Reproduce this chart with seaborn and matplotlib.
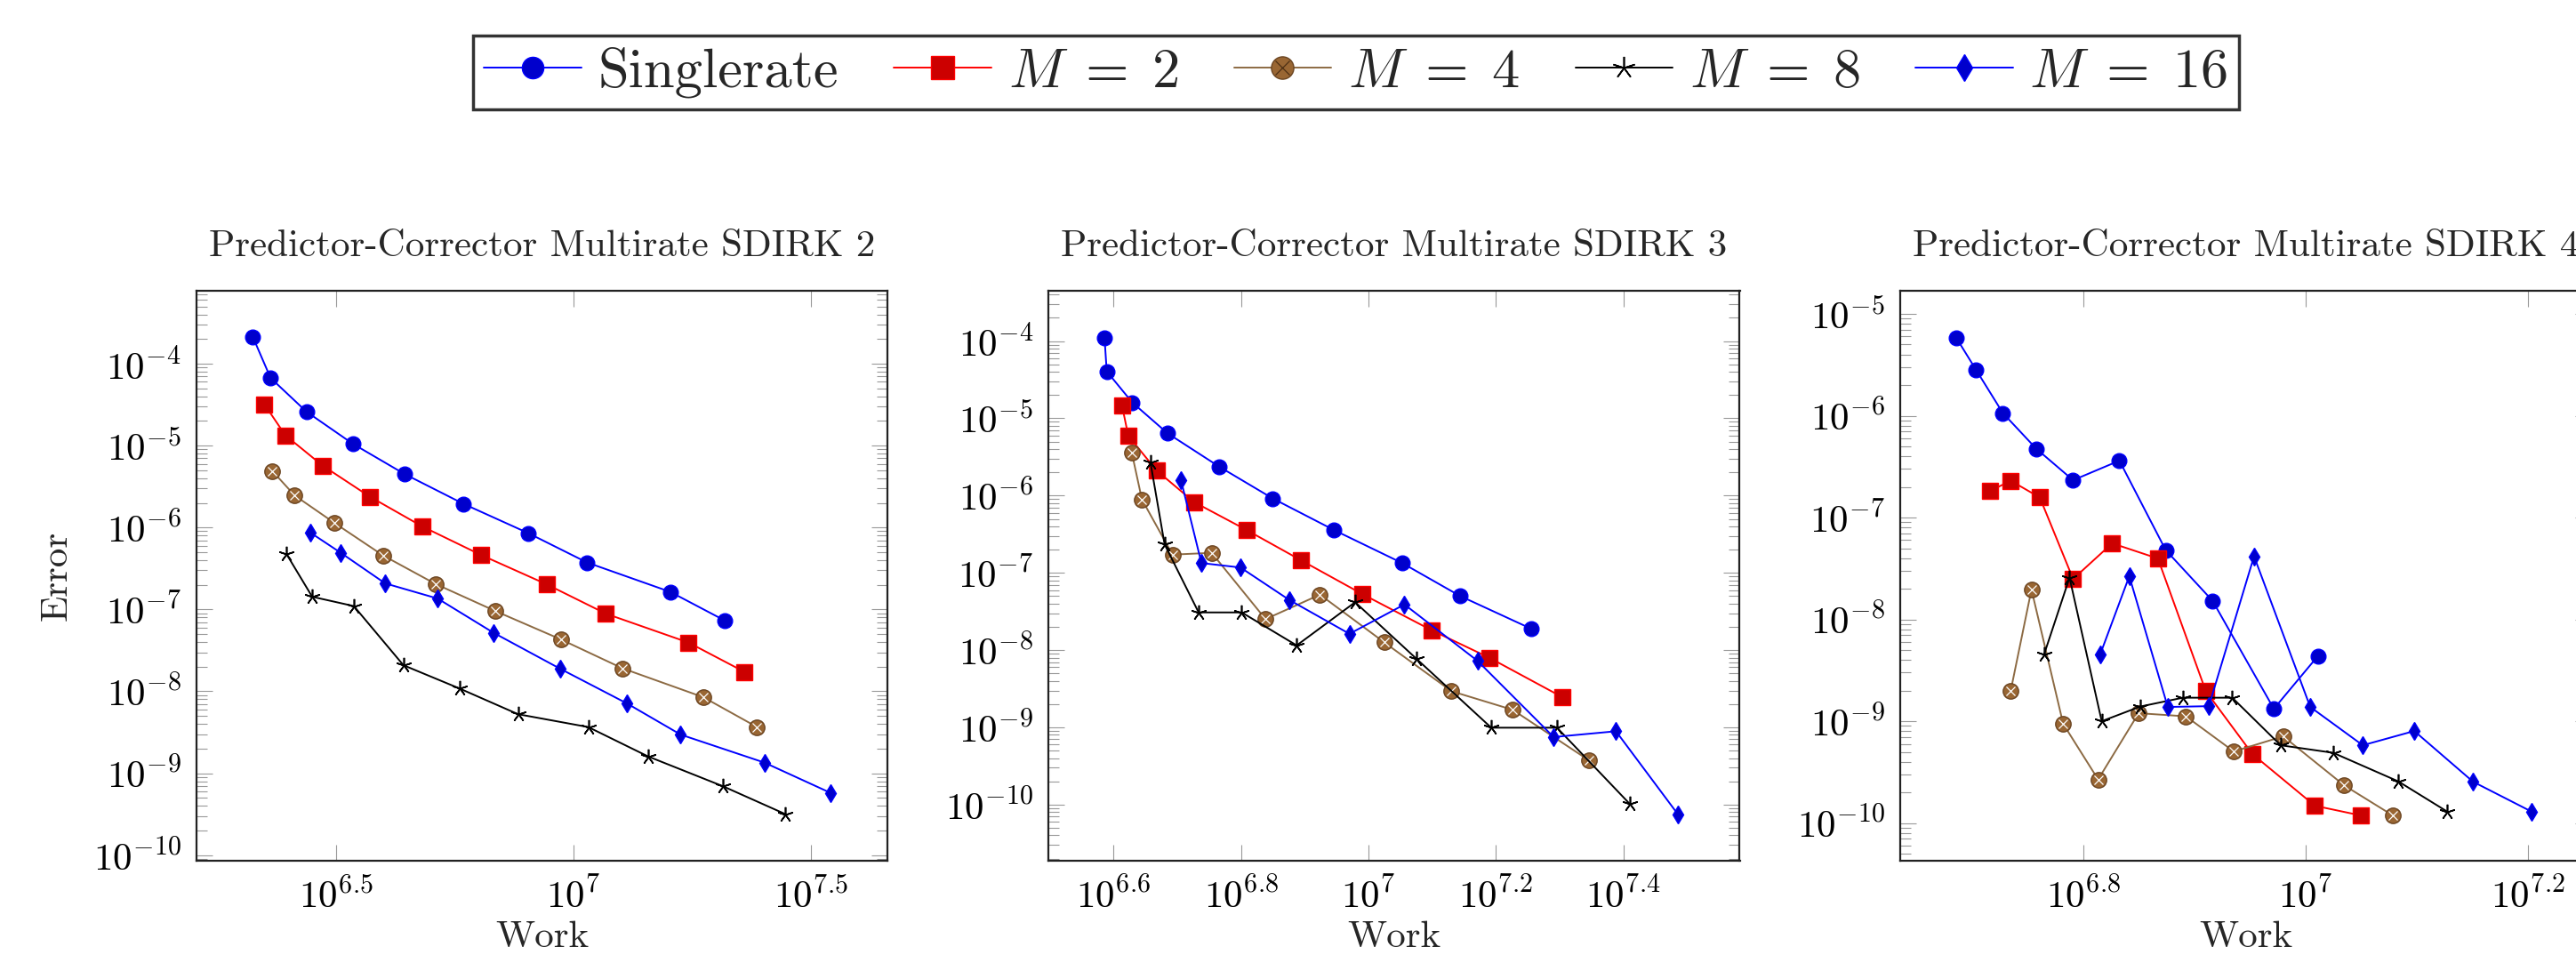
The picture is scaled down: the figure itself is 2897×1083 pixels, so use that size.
import numpy as np
import pandas as pd
import matplotlib
matplotlib.use("Agg")
import matplotlib.pyplot as plt
import seaborn as sns
from matplotlib.lines import Line2D
from matplotlib.legend_handler import HandlerTuple
from matplotlib.ticker import FixedLocator, FuncFormatter, LogLocator, NullLocator, NullFormatter

# ---------------- data (log10 of Work and Error) ----------------
titles = ["Predictor-Corrector Multirate SDIRK 2",
          "Predictor-Corrector Multirate SDIRK 3",
          "Predictor-Corrector Multirate SDIRK 4"]
series_names = ["Singlerate", r"$M\;=\;2$", r"$M\;=\;4$", r"$M\;=\;8$", r"$M\;=\;16$"]

# Panel 1: SDIRK 2
p1_single_logwork = [6.3245, 6.3618, 6.4375, 6.5349, 6.6442, 6.768, 6.905, 7.0288, 7.2043, 7.3197]
p1_single_logerr = [-3.674, -4.174, -4.586, -4.977, -5.347, -5.710, -6.069, -6.427, -6.786, -7.138]
p1_m2_logwork = [6.3486, 6.393, 6.4712, 6.5709, 6.6815, 6.8053, 6.9435, 7.0685, 7.2428, 7.3606]
p1_m2_logerr = [-4.494, -4.874, -5.243, -5.623, -5.987, -6.335, -6.693, -7.052, -7.405, -7.763]
p1_m4_logwork = [6.3654, 6.4123, 6.4964, 6.5986, 6.7091, 6.8353, 6.9736, 7.1034, 7.274, 7.387]
p1_m4_logerr = [-5.309, -5.607, -5.944, -6.340, -6.688, -7.019, -7.366, -7.719, -8.072, -8.436]
p1_m8_logwork = [6.3954, 6.4495, 6.5373, 6.6418, 6.7596, 6.8834, 7.0313, 7.1575, 7.3149, 7.4471]
p1_m8_logerr = [-6.324, -6.845, -6.959, -7.681, -7.964, -8.279, -8.436, -8.795, -9.158, -9.5]
p1_m16_logwork = [6.4459, 6.5096, 6.6034, 6.7139, 6.8317, 6.9724, 7.113, 7.226, 7.4026, 7.5421]
p1_m16_logerr = [-6.063, -6.308, -6.682, -6.867, -7.285, -7.725, -8.148, -8.528, -8.870, -9.240]

# Panel 2: SDIRK 3
p2_single_logwork = [6.5858, 6.5893, 6.6294, 6.6845, 6.7655, 6.85, 6.9462, 7.0529, 7.1437, 7.2558]
p2_single_logerr = [-3.954, -4.392, -4.795, -5.192, -5.624, -6.038, -6.447, -6.873, -7.299, -7.725]
p2_m2_logwork = [6.6133, 6.6231, 6.6676, 6.7264, 6.8091, 6.8946, 6.9907, 7.0992, 7.19, 7.3039]
p2_m2_logerr = [-4.835, -5.226, -5.676, -6.084, -6.447, -6.839, -7.276, -7.743, -8.100, -8.607]
p2_m4_logwork = [6.6285, 6.6445, 6.6925, 6.754, 6.8385, 6.9239, 7.0245, 7.1304, 7.2265, 7.3466]
p2_m4_logerr = [-5.440, -6.050, -6.764, -6.741, -7.599, -7.282, -7.898, -8.532, -8.773, -9.430]
p2_m8_logwork = [6.6578, 6.6801, 6.7335, 6.8011, 6.8874, 6.9791, 7.0752, 7.1927, 7.2959, 7.4098]
p2_m8_logerr = [-5.566, -6.631, -7.512, -7.512, -7.939, -7.380, -8.111, -9.004, -9.004, -9.988]
p2_m16_logwork = [6.7059, 6.7379, 6.7993, 6.8759, 6.9702, 7.0565, 7.1713, 7.2906, 7.3884, 7.4863]
p2_m16_logerr = [-5.802, -6.873, -6.931, -7.351, -7.789, -7.409, -8.140, -9.125, -9.050, -10.132]

# Panel 3: SDIRK 4
p3_single_logwork = [6.6864, 6.7037, 6.728, 6.7579, 6.7911, 6.8327, 6.8743, 6.9164, 6.9715, 7.0112]
p3_single_logerr = [-5.240, -5.546, -5.974, -6.323, -6.633, -6.441, -7.319, -7.817, -8.878, -8.358]
p3_m2_logwork = [6.7168, 6.735, 6.7612, 6.7911, 6.8262, 6.8673, 6.9103, 6.9523, 7.0084, 7.05]
p3_m2_logerr = [-6.738, -6.638, -6.803, -7.603, -7.253, -7.402, -8.703, -9.323, -9.830, -9.926]
p3_m4_logwork = [6.735, 6.7537, 6.7822, 6.8136, 6.85, 6.8925, 6.9355, 6.9799, 7.0346, 7.0785]
p3_m4_logerr = [-8.703, -7.707, -9.026, -9.572, -8.921, -8.952, -9.297, -9.148, -9.629, -9.926]
p3_m8_logwork = [6.765, 6.7879, 6.8168, 6.8514, 6.8897, 6.9341, 6.9776, 7.0248, 7.0832, 7.1271]
p3_m8_logerr = [-8.345, -7.590, -9.000, -8.856, -8.769, -8.769, -9.236, -9.310, -9.590, -9.886]
p3_m16_logwork = [6.8154, 6.8416, 6.8762, 6.9131, 6.9537, 7.0042, 7.0514, 7.0977, 7.1505, 7.2028]
p3_m16_logerr = [-8.345, -7.576, -8.860, -8.852, -7.380, -8.860, -9.236, -9.096, -9.594, -9.886]

panel_data = [
    [(p1_single_logwork, p1_single_logerr), (p1_m2_logwork, p1_m2_logerr), (p1_m4_logwork, p1_m4_logerr),
     (p1_m8_logwork, p1_m8_logerr), (p1_m16_logwork, p1_m16_logerr)],
    [(p2_single_logwork, p2_single_logerr), (p2_m2_logwork, p2_m2_logerr), (p2_m4_logwork, p2_m4_logerr),
     (p2_m8_logwork, p2_m8_logerr), (p2_m16_logwork, p2_m16_logerr)],
    [(p3_single_logwork, p3_single_logerr), (p3_m2_logwork, p3_m2_logerr), (p3_m4_logwork, p3_m4_logerr),
     (p3_m8_logwork, p3_m8_logerr), (p3_m16_logwork, p3_m16_logerr)],
]

# x tick exponents per panel
p1_xtick_exp = [6.5, 7.0, 7.5]
p2_xtick_exp = [6.6, 6.8, 7.0, 7.2, 7.4]
p3_xtick_exp = [6.8, 7.0, 7.2]
xtick_exps = [p1_xtick_exp, p2_xtick_exp, p3_xtick_exp]

# ---------------- style ----------------
sns.set_theme(style="ticks")
plt.rcParams["font.family"] = ["cmr10", "DejaVu Serif"]
plt.rcParams["mathtext.fontset"] = "cm"
plt.rcParams["axes.formatter.use_mathtext"] = True

styles = [
    dict(color="#0000FF", marker="o", ms=12, mfc="#0000CC", mec="#0000FF", mew=1.0),
    dict(color="#FF0000", marker="s", ms=12.5, mfc="#CC0000", mec="#FF0000", mew=1.0),
    dict(color="#8C6A43", marker="o", ms=12.5, mfc="#996633", mec="#6B4522", mew=1.0),
    dict(color="#000000", marker=(5, 2, 0), ms=12.5, mfc="#000000", mec="#000000", mew=1.2),
    dict(color="#0000FF", marker="d", ms=10.5, mfc="#0000CC", mec="#0000FF", mew=1.0),
]
line_w = 1.4
otimes_color = "#4E3014"

# axes geometry in pixels (figure 2897 x 1083)
W, H = 2897, 1083
axes_px = [(220.7, 327, 777.3, 641), (1179, 327, 777.5, 641), (2136.7, 327, 777.3, 641)]
xlims = [(6.2052, 7.6617), (6.4977, 7.5826), (6.6355, 7.2566)]
ylims = [(-10.068, -3.1097), (-10.726, -3.349), (-10.37, -4.773)]

fig = plt.figure(figsize=(W / 100, H / 100), dpi=100)

def xfmt(v, pos):
    e = np.log10(v)
    if abs(e - round(e)) < 1e-6:
        return r"$10^{%d}$" % int(round(e))
    return r"$10^{%.1f}$" % e

def yfmt(v, pos):
    e = np.log10(v)
    return r"$10^{%d}$" % int(round(e))

for i in range(3):
    l, t, w, h = axes_px[i]
    ax = fig.add_axes([l / W, 1 - (t + h) / H, w / W, h / H])
    ax.set_xscale("log")
    ax.set_yscale("log")
    for j, (lx, ly) in enumerate(panel_data[i]):
        df = pd.DataFrame({"Work": 10 ** np.array(lx), "Error": 10 ** np.array(ly)})
        st = styles[j]
        sns.lineplot(data=df, x="Work", y="Error", ax=ax, sort=False, estimator=None,
                     color=st["color"], marker=st["marker"], markersize=st["ms"],
                     markerfacecolor=st["mfc"], markeredgecolor=st["mec"],
                     markeredgewidth=st["mew"], linewidth=line_w, legend=False)
        if j == 2:
            sns.lineplot(data=df, x="Work", y="Error", ax=ax, sort=False, estimator=None,
                         color=otimes_color, marker="x", markersize=st["ms"] * 0.62,
                         markeredgewidth=0.9, linestyle="none", legend=False)
    ax.set_xlim(10 ** xlims[i][0], 10 ** xlims[i][1])
    ax.set_ylim(10 ** ylims[i][0], 10 ** ylims[i][1])
    ax.xaxis.set_major_locator(FixedLocator([10 ** e for e in xtick_exps[i]]))
    ax.xaxis.set_major_formatter(FuncFormatter(xfmt))
    ax.xaxis.set_minor_locator(NullLocator())
    ax.xaxis.set_minor_formatter(NullFormatter())
    ax.yaxis.set_major_locator(LogLocator(base=10, numticks=30))
    ax.yaxis.set_major_formatter(FuncFormatter(yfmt))
    ax.yaxis.set_minor_locator(LogLocator(base=10, subs=np.arange(2, 10), numticks=30))
    ax.yaxis.set_minor_formatter(NullFormatter())
    ax.tick_params(axis="both", which="major", direction="in", length=13, width=0.8,
                   color="#999999", labelsize=31, pad=14, top=True, right=True,
                   labelcolor="black")
    ax.tick_params(axis="y", which="minor", direction="in", length=8.5, width=0.8,
                   color="#999999", left=True, right=True)
    ax.tick_params(axis="y", which="major", pad=12)
    for sp in ax.spines.values():
        sp.set_visible(True)
        sp.set_color("#222222")
        sp.set_linewidth(1.6)
    ax.set_title(titles[i], fontsize=31, pad=28)
    ax.set_xlabel("Work", fontsize=31, labelpad=4)
    if i == 0:
        ax.set_ylabel("Error", fontsize=31, labelpad=16)
    else:
        ax.set_ylabel("")

# ---------------- legend ----------------
handles = []
for j, st in enumerate(styles):
    h = Line2D([], [], color=st["color"], marker=st["marker"], markersize=st["ms"],
               markerfacecolor=st["mfc"], markeredgecolor=st["mec"],
               markeredgewidth=st["mew"], linewidth=line_w)
    if j == 2:
        hx = Line2D([], [], color=otimes_color, marker="x", markersize=st["ms"] * 0.62,
                    markeredgewidth=0.9, linestyle="none")
        h = (h, hx)
    handles.append(h)

leg = fig.legend(handles, series_names, loc="center", bbox_to_anchor=(1525 / W, 1 - 81.5 / H),
                 ncol=5, fontsize=45, frameon=True, fancybox=False, edgecolor="black",
                 handlelength=1.75, handletextpad=0.3, columnspacing=1.0, borderpad=0.2,
                 markerscale=1.45, numpoints=1,
                 handler_map={tuple: HandlerTuple(ndivide=1, pad=0)})
leg.get_frame().set_linewidth(2.5)

fig.savefig("out.png", dpi=100)
